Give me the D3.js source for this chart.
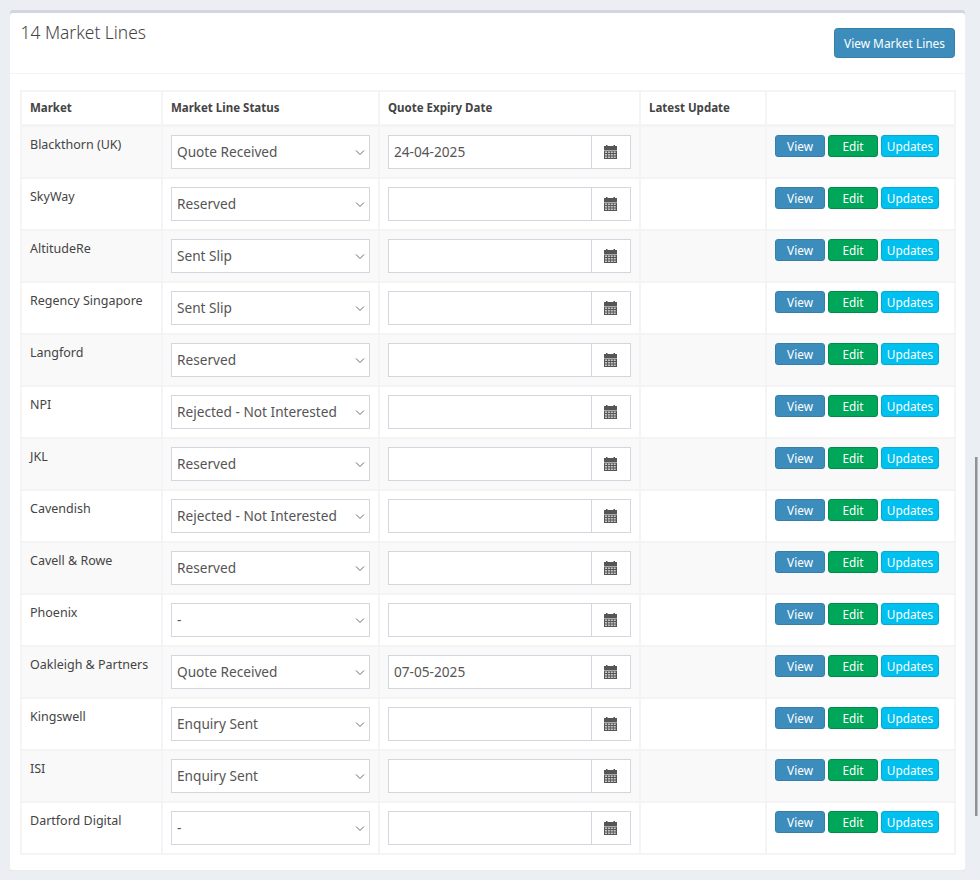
<!DOCTYPE html>
<html>
  <head>
    <meta charset="utf-8">
    <script src="https://cdn.jsdelivr.net/npm/d3@7"></script>
    <style>
      html, body { margin: 0; padding: 0; background: #ebeef3; overflow: hidden; }
      svg { display: block; }
      text { font-family: "Noto Sans", "Open Sans", sans-serif; }
    </style>
  </head>
  <body>
    <script>
var title = '14 Market Lines';
var topButton = 'View Market Lines';
var columns = ['Market', 'Market Line Status', 'Quote Expiry Date', 'Latest Update', ''];
var markets = ['Blackthorn (UK)', 'SkyWay', 'AltitudeRe', 'Regency Singapore', 'Langford', 'NPI', 'JKL',
  'Cavendish', 'Cavell & Rowe', 'Phoenix', 'Oakleigh & Partners', 'Kingswell', 'ISI', 'Dartford Digital'];
var statuses = ['Quote Received', 'Reserved', 'Sent Slip', 'Sent Slip', 'Reserved', 'Rejected - Not Interested', 'Reserved',
  'Rejected - Not Interested', 'Reserved', '-', 'Quote Received', 'Enquiry Sent', 'Enquiry Sent', '-'];
var expiryDates = ['24-04-2025', '', '', '', '', '', '', '', '', '', '07-05-2025', '', '', ''];
var rowButtons = ['View', 'Edit', 'Updates'];

var width = 980;
var height = 880;
var svg = d3.select('body').append('svg')
  .attr('width', width)
  .attr('height', height);

var textColor = '#444';
var lineColor = '#f4f4f4';
var boxColor = '#d2d6de';
var buttonFill = { View: '#3c8dbc', Edit: '#00a65a', Updates: '#00c0ef' };
var buttonEdge = { View: '#367fa9', Edit: '#008d4c', Updates: '#00acd6' };

// column edges, left to right
var colEdges = [21, 162, 379, 640, 766, 955];
var x = d3.scaleOrdinal().domain(d3.range(6)).range(colEdges);
var y = d3.scaleBand().domain(d3.range(markets.length)).range([126, 854]);
var rowH = y.bandwidth();

// card
svg.append('rect')
  .attr('x', 10).attr('y', 10).attr('width', 955).attr('height', 861).attr('rx', 3)
  .style('fill', '#d2d6de');
svg.append('rect')
  .attr('x', 10).attr('y', 13).attr('width', 955).attr('height', 857.5).attr('rx', 3)
  .style('fill', '#fff');
svg.append('line')
  .attr('x1', 10).attr('x2', 965).attr('y1', 73.5).attr('y2', 73.5)
  .style('stroke', lineColor);

svg.append('text')
  .attr('x', 20.5).attr('y', 39)
  .style('font-size', '17.4px').style('font-weight', 300).style('fill', textColor)
  .text(title);

// top button
var topBtn = svg.append('g');
topBtn.append('rect')
  .attr('x', 834.5).attr('y', 28.5).attr('width', 120).attr('height', 29).attr('rx', 3)
  .style('fill', buttonFill.View).style('stroke', buttonEdge.View);
topBtn.append('text')
  .attr('x', 894.5).attr('y', 47.5).attr('text-anchor', 'middle')
  .style('font-size', '11.9px').style('fill', '#fff')
  .text(topButton);

// striped rows
svg.selectAll('.stripe').data(markets).enter().append('rect')
  .attr('class', 'stripe')
  .attr('x', x(0)).attr('width', x(5) - x(0))
  .attr('y', function(d, i) { return y(i); })
  .attr('height', rowH)
  .style('fill', function(d, i) { return i % 2 ? '#fff' : '#f9f9f9'; });

// grid
var grid = svg.append('g').style('stroke', lineColor).style('stroke-width', 2);
grid.selectAll('.v').data(colEdges).enter().append('line')
  .attr('class', 'v')
  .attr('x1', function(d) { return d; }).attr('x2', function(d) { return d; })
  .attr('y1', 90).attr('y2', 855);
grid.selectAll('.h').data(d3.range(markets.length + 1)).enter().append('line')
  .attr('class', 'h')
  .attr('x1', x(0)).attr('x2', x(5))
  .attr('y1', function(d) { return y(0) + d * rowH; })
  .attr('y2', function(d) { return y(0) + d * rowH; });
grid.append('line').attr('x1', x(0)).attr('x2', x(5)).attr('y1', 91).attr('y2', 91);
grid.append('line').attr('x1', x(0)).attr('x2', x(5)).attr('y1', 125).attr('y2', 125);

// header
svg.selectAll('.head').data(columns).enter().append('text')
  .attr('class', 'head')
  .attr('x', function(d, i) { return x(i) + 9; })
  .attr('y', 112)
  .style('font-size', '11.5px').style('font-weight', 700).style('fill', textColor)
  .text(function(d) { return d; });

var rows = svg.selectAll('.row').data(markets).enter().append('g')
  .attr('class', 'row')
  .attr('transform', function(d, i) { return 'translate(0,' + y(i) + ')'; });

rows.append('text')
  .attr('x', x(0) + 9).attr('y', 23)
  .style('font-size', '12.5px').style('fill', textColor)
  .text(function(d) { return d; });

// status select
rows.append('rect')
  .attr('x', 171.5).attr('y', 9.5).attr('width', 198).attr('height', 33)
  .style('fill', '#fff').style('stroke', boxColor);
rows.append('text')
  .attr('x', 177).attr('y', 31)
  .style('font-size', '13.65px').style('fill', '#555')
  .text(function(d, i) { return statuses[i]; });
rows.append('path')
  .attr('d', 'M356 24.5l4 4 4-4')
  .style('fill', 'none').style('stroke', '#666').style('stroke-width', 1);

// date input and calendar addon
rows.append('rect')
  .attr('x', 388.5).attr('y', 9.5).attr('width', 242).attr('height', 33)
  .style('fill', '#fff').style('stroke', boxColor);
rows.append('line')
  .attr('x1', 591.5).attr('x2', 591.5).attr('y1', 9.5).attr('y2', 42.5)
  .style('stroke', boxColor);
rows.append('text')
  .attr('x', 394).attr('y', 31)
  .style('font-size', '13.65px').style('fill', '#555')
  .text(function(d, i) { return expiryDates[i]; });

var cal = rows.append('g').style('fill', '#555');
cal.append('rect').attr('x', 604).attr('y', 20).attr('width', 13).attr('height', 4);
cal.append('rect').attr('x', 606).attr('y', 19).attr('width', 1.5).attr('height', 2);
cal.append('rect').attr('x', 613.5).attr('y', 19).attr('width', 1.5).attr('height', 2);
cal.append('rect').attr('x', 604).attr('y', 24.5).attr('width', 13).attr('height', 8.5);
d3.range(3).forEach(function(r) {
  d3.range(4).forEach(function(c) {
    cal.append('rect')
      .attr('x', 605 + c * 2.9).attr('y', 25.5 + r * 2.5).attr('width', 2).attr('height', 1.5)
      .style('fill', '#c8c8c8');
  });
});

// row buttons
var btnX = d3.scaleOrdinal().domain(rowButtons).range([775.5, 828.5, 881.5]);
var btnW = d3.scaleOrdinal().domain(rowButtons).range([49, 49, 57]);
rowButtons.forEach(function(b) {
  rows.append('rect')
    .attr('x', btnX(b)).attr('y', 9.5).attr('width', btnW(b)).attr('height', 21).attr('rx', 2.5)
    .style('fill', buttonFill[b]).style('stroke', buttonEdge[b]);
  rows.append('text')
    .attr('x', btnX(b) + btnW(b) / 2).attr('y', 24.5).attr('text-anchor', 'middle')
    .style('font-size', '11.8px').style('fill', '#fff')
    .text(b);
});

// scrollbar thumb
svg.append('rect')
  .attr('x', 975).attr('y', 457).attr('width', 2.5).attr('height', 359)
  .style('fill', '#8f9193');
    </script>
  </body>
</html>
